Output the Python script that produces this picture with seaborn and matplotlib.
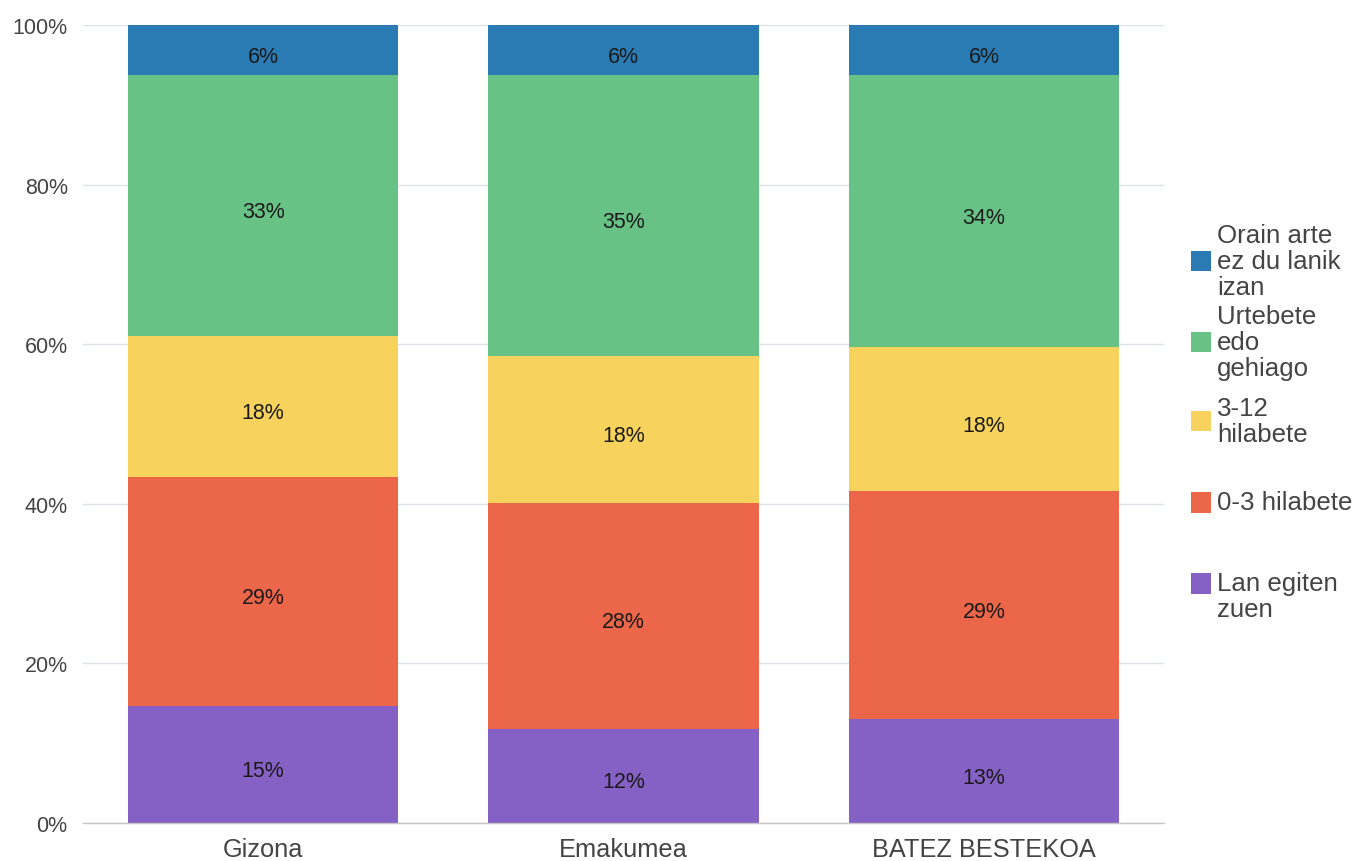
import matplotlib
matplotlib.use("Agg")
import matplotlib.pyplot as plt
from matplotlib.legend_handler import HandlerBase
from matplotlib.patches import Patch, Rectangle
import numpy as np
import pandas as pd
import seaborn as sns

# data (percent), stacked from bottom to top
categories = ["Gizona", "Emakumea", "BATEZ BESTEKOA"]
series = ["Lan egiten zuen", "0-3 hilabete", "3-12 hilabete",
          "Urtebete edo gehiago", "Orain arte ez du lanik izan"]
lan_egiten = [14.6, 11.8, 13.0]
hil_0_3 = [28.8, 28.3, 28.6]
hil_3_12 = [17.6, 18.4, 18.0]
urtebete = [32.7, 35.2, 34.1]
orain_arte = [6.3, 6.3, 6.3]
legend_labels = ["\nLan egiten\nzuen", "\n0-3 hilabete\n", "3-12\nhilabete",
                 "Urtebete\nedo\ngehiago", "Orain arte\nez du lanik\nizan"]
colors = ["#8561c5", "#ec6649", "#f7d35d", "#69c285", "#2a7bb4"]

values = [lan_egiten, hil_0_3, hil_3_12, urtebete, orain_arte]
df = pd.DataFrame({s: v for s, v in zip(series, values)}, index=categories)
cum = df.cumsum(axis=1)


class SquareHandler(HandlerBase):
    # square centred on the middle of the (multi-line) label
    def create_artists(self, legend, orig_handle, xdescent, ydescent,
                       width, height, fontsize, trans):
        size = 14.5
        yc = 0.365 * fontsize
        r = Rectangle((-xdescent, yc - size / 2), size, size,
                      facecolor=orig_handle.get_facecolor(), linewidth=0,
                      transform=trans)
        return [r]


sns.set_theme(style="whitegrid")
plt.rcParams["font.family"] = ["Liberation Sans", "DejaVu Sans"]

fig = plt.figure(figsize=(13.52, 8.62), dpi=100)
ax = fig.add_axes([0.0614, 0.0441, 0.7996, 0.9257])

# draw tallest cumulative first so lower segments sit on top
for s, c in reversed(list(zip(series, colors))):
    sns.barplot(x=categories, y=cum[s].values, color=c, saturation=1,
                width=0.75, linewidth=0, ax=ax, zorder=2)

for i, cat in enumerate(categories):
    for s in series:
        v = df.loc[cat, s]
        ax.annotate(f"{v:.0f}%", (i, cum.loc[cat, s] - v / 2),
                    xytext=(0, -2.5), textcoords="offset points",
                    ha="center", va="center_baseline", fontsize=15.5,
                    color="#1a1a1a", zorder=3)

ax.set_xlim(-0.5, 2.5)
ax.set_ylim(0, 100)
ax.set_yticks(np.arange(0, 101, 20))
ax.set_yticklabels([f"{t}%" for t in range(0, 101, 20)])
ax.grid(axis="y", color="#dde2e8", linewidth=1, zorder=0)
ax.grid(axis="x", visible=False)
ax.set_axisbelow(True)
for sp in ["left", "right", "top"]:
    ax.spines[sp].set_visible(False)
ax.spines["bottom"].set_color("#c4c4c4")
ax.spines["bottom"].set_linewidth(1)
ax.tick_params(axis="y", length=0, pad=11, labelsize=15.5, labelcolor="#444444")
ax.tick_params(axis="x", length=0, pad=10, labelsize=18.3, labelcolor="#444444")

handles = [Patch(facecolor=c) for c in colors]
leg = fig.legend(handles[::-1], legend_labels[::-1], loc="center left",
                 bbox_to_anchor=(0.8807, 0.507), frameon=False, fontsize=18.6,
                 handlelength=0.78, handleheight=4.2, handletextpad=0.25,
                 labelspacing=0.08, borderpad=0, borderaxespad=0,
                 handler_map={Patch: SquareHandler()})
for t in leg.get_texts():
    t.set_linespacing(1.1)
    t.set_color("#444444")

fig.savefig("out.png", dpi=100)
